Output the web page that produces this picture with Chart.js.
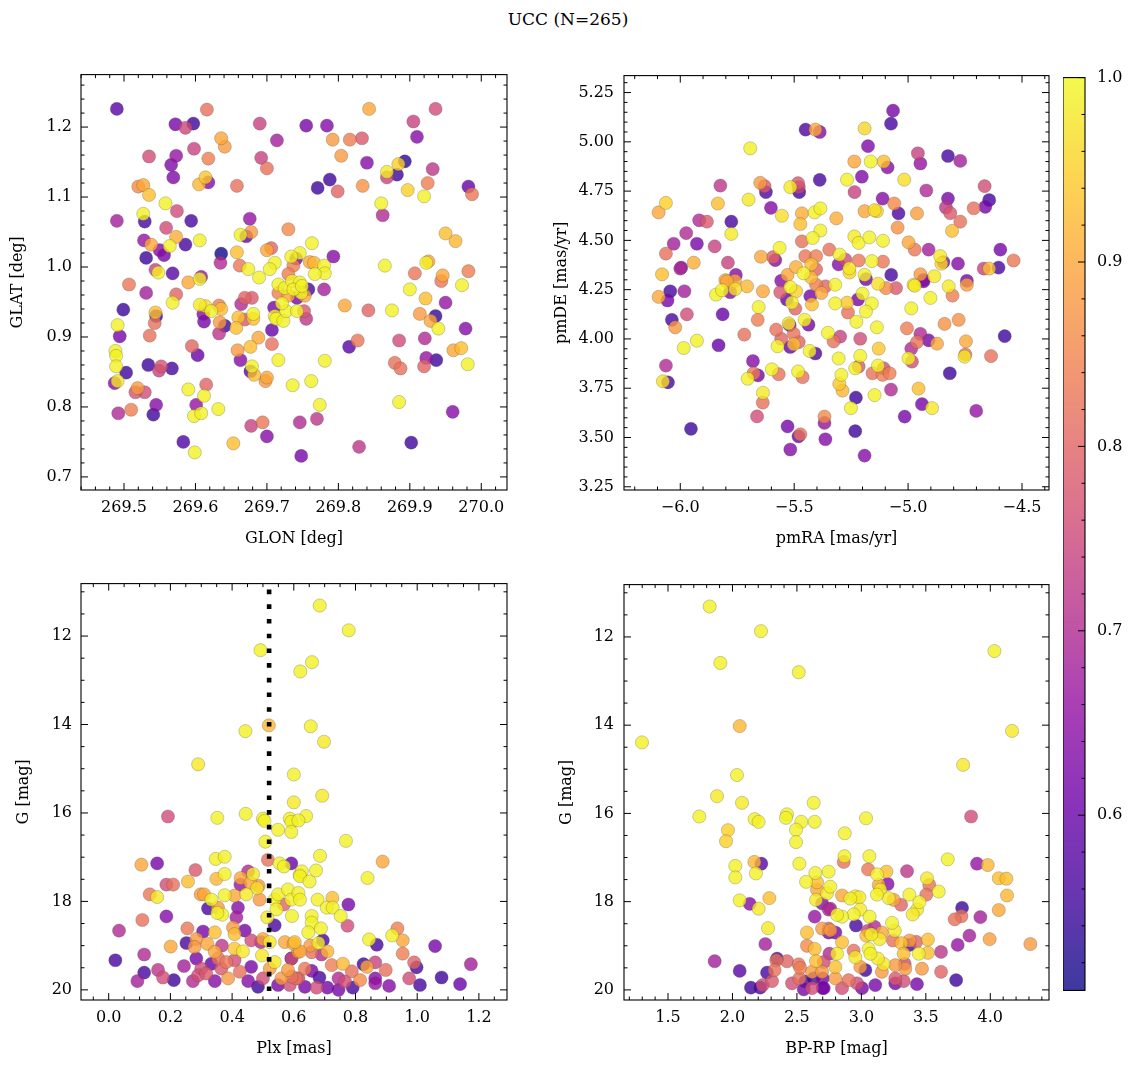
<!DOCTYPE html>
<html lang="en">
<head>
<meta charset="UTF-8">
<title>UCC (N=265)</title>
<script src="https://cdn.jsdelivr.net/npm/chart.js"></script>
<style>
    body {
        margin: 0;
        width: 1136px;
        height: 1067px;
        position: relative;
        overflow: hidden;
        background: #fff;
        font-family: 'DejaVu Serif', serif;
    }
    canvas { position: absolute; }
    #title {
        position: absolute;
        top: 9px;
        left: 0;
        width: 1136px;
        text-align: center;
        font-size: 17px;
        color: #000;
    }
</style>
</head>
<body>
<div id="title">UCC (N=265)</div>
<canvas id="cPos"></canvas>
<canvas id="cPm"></canvas>
<canvas id="cPlx"></canvas>
<canvas id="cCmd"></canvas>
<canvas id="cBar"></canvas>
<script>
// ---- data ----
// top-left: GLON / GLAT
const glon = [269.490,269.616,269.572,269.586,269.597,269.690,269.714,269.755,269.784,269.843,
269.936,269.905,269.910,269.636,269.641,269.792,269.816,269.833,269.535,269.573,
269.566,269.598,269.618,269.692,269.700,269.804,269.840,269.893,269.884,269.868,
269.868,269.882,269.932,269.569,269.520,269.527,269.535,269.605,269.614,269.618,
269.658,269.771,269.788,269.799,269.834,269.897,269.920,269.925,269.982,269.987,
269.860,269.862,269.490,269.527,269.529,269.558,269.574,269.594,269.676,269.663,
269.671,269.678,269.730,269.559,269.573,269.528,269.538,269.564,269.586,269.606,
269.550,269.556,269.531,269.636,269.635,269.658,269.700,269.706,269.763,269.746,
269.734,269.741,269.793,269.711,269.760,269.766,269.780,269.781,269.767,269.737,
269.730,269.662,269.674,269.704,269.689,269.544,269.548,269.568,269.608,269.606,
269.590,269.507,269.865,269.923,269.926,269.907,269.946,269.982,269.950,269.964,
269.973,
269.531,269.573,269.568,269.780,269.809,269.842,269.875,269.900,269.922,269.944,
269.950,269.936,269.914,269.929,269.940,269.978,269.499,269.491,269.494,269.544,
269.545,269.543,269.536,269.606,269.614,269.622,269.633,269.636,269.611,269.612,
269.634,269.641,269.633,269.660,269.657,269.664,269.669,269.679,269.681,269.681,
269.669,269.710,269.711,269.713,269.723,269.727,269.742,269.752,269.755,269.707,
269.688,269.677,269.659,269.707,269.716,269.781,269.663,269.679,269.677,269.682,
269.700,269.698,269.595,269.603,269.534,269.552,269.549,269.567,269.503,269.488,
269.489,269.489,269.487,269.491,269.519,269.516,269.529,269.492,269.510,269.545,
269.541,269.590,269.615,269.612,269.601,269.598,269.608,269.632,269.583,269.599,
269.653,269.678,269.694,269.700,269.736,269.762,269.774,269.746,269.770,269.748,
269.815,269.827,269.885,269.879,269.887,269.921,269.923,269.937,269.920,269.961,
269.972,269.981,269.885,269.829,269.902,269.960,
269.716,269.725,269.735,269.746,269.748,269.758,269.716,269.730,269.742,269.753,
269.721,269.737,269.749];
const glat = [1.226,1.225,1.204,1.199,1.205,1.205,1.181,1.202,1.202,1.226,
1.226,1.208,1.186,1.184,1.172,1.182,1.182,1.184,1.158,1.159,
1.146,1.169,1.155,1.156,1.141,1.159,1.149,1.151,1.147,1.136,
1.128,1.132,1.140,1.128,1.115,1.117,1.103,1.118,1.128,1.121,
1.116,1.113,1.125,1.108,1.116,1.110,1.101,1.120,1.115,1.104,
1.091,1.074,1.066,1.076,1.065,1.091,1.080,1.066,1.069,1.046,
1.044,1.050,1.054,1.056,1.043,1.038,1.032,1.030,1.032,1.038,
1.024,1.017,1.013,1.019,1.006,1.021,1.024,1.027,1.034,1.020,
1.015,1.012,1.015,1.006,1.007,1.006,1.002,0.991,0.990,1.002,
0.990,1.002,0.997,0.997,0.985,0.996,0.992,0.991,0.986,0.983,
0.978,0.975,1.002,1.006,1.008,0.991,0.988,0.994,1.048,1.037,
0.974,
0.963,0.961,0.949,0.968,0.945,0.938,0.938,0.968,0.955,0.980,
0.949,0.930,0.933,0.923,0.912,0.912,0.939,0.917,0.901,0.935,
0.930,0.920,0.902,0.946,0.944,0.937,0.945,0.940,0.933,0.922,
0.921,0.916,0.905,0.928,0.913,0.947,0.956,0.956,0.933,0.926,
0.925,0.942,0.930,0.926,0.923,0.937,0.937,0.937,0.926,0.910,
0.899,0.886,0.881,0.890,0.867,0.866,0.867,0.858,0.851,0.846,
0.842,0.837,0.887,0.874,0.860,0.858,0.852,0.855,0.849,0.880,
0.873,0.858,0.834,0.837,0.827,0.821,0.821,0.791,0.796,0.803,
0.789,0.825,0.832,0.816,0.803,0.787,0.791,0.797,0.750,0.735,
0.748,0.773,0.778,0.758,0.831,0.837,0.803,0.778,0.783,0.730,
0.886,0.895,0.895,0.863,0.855,0.898,0.870,0.867,0.858,0.881,
0.884,0.861,0.807,0.743,0.749,0.793,
0.975,0.970,0.980,0.978,0.963,0.968,0.963,0.959,0.956,0.959,
0.948,0.968,0.973];
const probPos = [.58,.82,.62,.75,.55,.74,.68,.62,.64,.90,
.76,.74,.64,.90,.88,.88,.84,.78,.76,.66,
.63,.74,.84,.74,.82,.88,.64,.53,.95,.98,
.74,.55,.72,.63,.86,.90,.93,.92,.94,.64,
.82,.55,.55,.80,.87,.95,.99,.84,.60,.83,
.99,.70,.68,.99,.56,.99,.76,.56,.66,.99,
.60,.88,.86,.76,.91,.66,.90,.99,.56,.99,
.64,.62,.55,.51,.70,.93,.90,.80,.99,.99,
.99,.62,.64,.99,.90,.92,.99,.99,.99,.84,
.84,.83,.99,.99,.99,.74,.99,.58,.66,.99,
.90,.83,.99,.99,.90,.83,.90,.84,.93,.92,
.99,
.68,.80,.99,.68,.90,.80,.99,.99,.93,.83,
.66,.54,.88,.90,.99,.64,.55,.99,.62,.93,
.55,.82,.82,.98,.97,.99,.84,.93,.64,.62,
.88,.55,.72,.93,.93,.70,.80,.78,.99,.93,
.78,.62,.99,.99,.99,.99,.99,.78,.72,.60,
.90,.93,.88,.82,.99,.99,.64,.99,.58,.93,
.90,.88,.80,.60,.55,.77,.74,.56,.55,.99,
.99,.99,.64,.98,.88,.77,.76,.70,.84,.64,
.55,.99,.80,.99,.66,.99,.99,.99,.57,.99,
.93,.74,.83,.64,.99,.99,.99,.70,.72,.62,
.58,.83,.76,.82,.82,.70,.66,.55,.80,.90,
.93,.99,.99,.72,.55,.64,
.99,.99,.99,.99,.99,.56,.84,.90,.62,.90,
.99,.99,.99];

// top-right: pmRA / pmDE
const pmra = [-5.066,-5.075,-5.450,-5.407,-5.388,-5.191,-5.693,-5.176,-5.236,-5.164,
-5.107,-5.090,-4.957,-4.946,-4.825,-4.771,-5.388,-5.268,-5.203,-5.017,
-5.824,-5.649,-5.630,-5.624,-5.483,-5.480,-5.517,-5.478,-5.235,-5.112,
-5.061,-5.042,-4.920,-4.825,-4.834,-4.815,-4.712,-4.664,-4.644,-4.661,
-4.771,-4.807,-6.063,-6.095,-6.063,-6.080,-6.029,-5.974,-5.927,-5.917,
-5.883,-5.849,-5.835,-5.776,-5.776,-5.700,-5.602,-5.554,-5.466,-5.473,
-5.410,-5.385,-5.385,-5.419,-5.466,-5.315,-5.191,-5.147,-5.137,-5.236,
-5.217,-5.170,-5.110,-5.046,-4.998,-4.971,-4.961,-4.910,-4.859,-4.854,
-4.845,-4.781,-4.742,-4.668,-4.644,-4.603,-4.595,-4.537,-5.646,-5.593,
-5.583,-5.564,-5.346,-5.301,-5.276,-5.305,-5.258,-5.257,-5.217,-5.159,
-5.110,-5.451,-5.404,-5.425,-5.404,-5.492,-5.529,-5.459,-5.426,-5.791,
-5.941,-5.996,-6.000,-5.756,-5.802,-5.760,-5.557,-5.074,-5.191,-5.185,
-4.946,-4.932,-4.971,-4.885,
-6.095,-6.044,-6.056,-5.982,-6.037,-6.022,-5.971,-5.985,-5.927,-6.063,
-6.076,-6.054,-5.953,-5.843,-5.817,-5.781,-5.759,-5.795,-5.707,-5.637,
-5.814,-5.832,-5.656,-5.660,-5.719,-5.681,-5.678,-5.659,-5.704,-5.637,
-5.638,-5.663,-5.561,-5.517,-5.492,-5.532,-5.510,-5.495,-5.429,-5.422,
-5.404,-5.381,-5.363,-5.320,-5.320,-5.268,-5.264,-5.220,-5.200,-5.159,
-5.185,-5.132,-5.097,-5.053,-4.976,-4.932,-4.902,-4.822,-4.805,-4.742,
-4.986,-5.524,-5.520,-5.579,-5.557,-5.502,-5.480,-5.502,-5.573,-5.517,
-5.454,-5.437,-5.432,-5.407,-5.352,-5.327,-5.298,-5.227,-5.210,-5.305,
-5.293,-5.302,-5.288,-5.210,-5.217,-5.232,-5.137,-5.129,-5.132,-5.107,
-5.156,-5.112,-5.081,-5.147,-5.075,-5.229,-5.251,-5.367,-5.367,-5.363,
-5.529,-5.481,-5.473,-5.517,-5.232,-5.191,-5.015,-4.939,-4.895,-4.954,
-5.005,-4.986,-4.983,-4.998,-4.946,-4.961,-4.910,-4.873,-4.840,-4.778,
-4.746,-4.749,-4.752,-4.817,-4.701,-4.636,-4.576,-5.598,-5.568,-5.463,
-5.483];
const pmde = [5.158,5.092,5.062,5.062,5.050,5.068,4.967,4.978,4.900,4.900,
4.900,4.870,4.942,4.890,4.928,4.903,4.807,4.808,4.823,4.808,
4.778,4.792,4.775,4.745,4.790,4.770,4.770,4.745,4.745,4.712,
4.687,4.637,4.753,4.712,4.667,4.638,4.663,4.775,4.705,4.670,
4.595,4.548,4.690,4.642,4.433,4.328,4.483,4.537,4.483,4.602,
4.595,4.470,4.687,4.595,4.533,4.707,4.665,4.625,4.637,4.583,
4.642,4.662,4.550,4.512,4.495,4.612,4.648,4.653,4.648,4.520,
4.487,4.515,4.498,4.565,4.490,4.453,4.637,4.453,4.420,4.382,
4.390,4.382,4.295,4.357,4.357,4.362,4.453,4.398,4.417,4.415,
4.400,4.462,4.453,4.428,4.403,4.378,4.358,4.337,4.398,4.395,
4.392,4.420,4.420,4.378,4.353,4.365,4.325,4.333,4.312,4.387,
4.387,4.362,4.357,4.325,4.298,4.295,4.295,4.325,4.325,4.303,
4.328,4.300,4.270,4.318,
4.213,4.242,4.195,4.242,4.097,4.059,4.125,3.954,3.991,3.865,
3.785,3.780,3.544,4.225,4.247,4.237,4.253,4.292,4.267,4.242,
4.125,3.968,4.162,4.097,4.022,3.888,3.826,3.815,3.798,3.727,
3.677,3.607,4.237,4.263,4.242,4.200,4.184,4.154,4.217,4.175,
4.275,4.233,4.267,4.275,4.180,4.184,4.134,4.200,4.230,4.180,
4.139,4.280,4.258,4.258,4.275,4.292,4.208,4.267,4.220,4.275,
4.155,4.079,4.070,4.047,4.001,4.026,3.984,3.973,3.963,3.959,
4.097,4.072,3.939,3.926,4.031,3.988,4.012,4.087,4.001,3.901,
3.818,3.772,3.738,3.914,3.860,3.851,4.059,3.951,3.865,3.851,
3.826,3.818,3.826,3.715,3.743,3.702,3.649,3.606,3.574,3.491,
3.556,3.506,3.516,3.439,3.532,3.408,3.606,3.669,3.649,3.748,
4.054,3.951,3.885,3.901,4.026,3.984,3.993,3.976,4.076,4.097,
3.988,3.921,3.910,3.826,3.635,3.913,4.014,3.846,3.821,3.806,
3.835];
const probPm = [.62,.56,.57,.90,.64,.96,.99,.63,.90,.99,
.93,.64,.74,.66,.56,.68,.56,.99,.63,.97,
.72,.88,.78,.57,.78,.74,.98,.55,.74,.64,
.86,.57,.70,.62,.72,.78,.82,.76,.56,.62,
.82,.93,.95,.90,.82,.93,.68,.70,.62,.70,
.78,.74,.93,.56,.98,.98,.64,.97,.91,.93,
.99,.99,.99,.99,.82,.91,.90,.97,.96,.98,
.99,.99,.99,.87,.90,.83,.89,.68,.98,.96,
.64,.64,.62,.74,.93,.56,.62,.83,.90,.80,
.64,.99,.82,.99,.76,.64,.98,.96,.83,.99,
.83,.83,.84,.93,.80,.91,.90,.99,.92,.74,
.91,.62,.70,.64,.90,.90,.64,.56,.99,.62,
.88,.64,.98,.98,
.90,.56,.62,.68,.56,.88,.76,.99,.99,.70,
.97,.56,.55,.99,.99,.64,.97,.90,.92,.90,
.60,.60,.99,.84,.82,.64,.83,.62,.99,.98,
.82,.76,.78,.99,.95,.60,.99,.80,.62,.93,
.84,.90,.80,.99,.99,.94,.82,.62,.99,.99,
.99,.97,.86,.78,.97,.62,.99,.98,.84,.89,
.99,.98,.64,.82,.80,.82,.80,.93,.99,.60,
.99,.62,.99,.57,.99,.82,.74,.99,.76,.99,
.99,.94,.92,.99,.78,.99,.99,.94,.99,.76,
.82,.84,.84,.99,.70,.55,.99,.86,.66,.64,
.62,.60,.82,.64,.55,.64,.62,.62,.98,.93,
.84,.70,.76,.99,.70,.82,.62,.90,.87,.87,
.90,.82,.98,.55,.66,.82,.55,.99,.82,.82,
.99];

// bottom-left: Plx / G
const plx = [0.684,0.778,0.492,0.659,0.621,0.519,0.443,0.655,0.698,0.290,0.600,0.692,0.600,
0.192,0.352,0.444,0.500,0.505,0.549,0.508,0.587,0.592,0.592,
0.106,0.157,0.281,0.347,0.376,0.516,0.554,0.592,0.568,0.619,
0.187,0.209,0.257,0.349,0.376,0.428,0.427,0.452,0.468,0.459,
0.481,0.486,0.133,0.157,0.298,0.309,0.333,0.376,0.408,0.446,
0.489,0.538,0.549,0.581,0.592,0.568,0.544,0.514,0.538,0.322,
0.354,0.368,0.352,0.419,0.414,0.187,0.109,0.0335,0.255,0.306,
0.344,0.403,0.408,0.441,0.201,0.252,0.284,0.278,0.320,0.344,
0.367,0.408,0.435,0.462,0.493,0.500,0.497,0.538,0.522,0.571,
0.603,0.614,0.0216,0.115,0.115,0.093,0.160,0.176,0.211,0.244,
0.273,0.284,0.300,0.316,0.333,0.344,0.365,0.381,0.387,0.408,
0.425,0.452,0.462,0.484,0.500,0.522,0.549,0.560,0.587,0.592,
0.581,0.608,0.290,0.355,
0.640,0.615,0.769,0.685,0.888,0.839,0.626,0.620,0.651,0.672,
0.615,0.620,0.677,0.707,0.725,0.726,0.752,0.777,0.774,0.594,
0.658,0.658,0.647,0.688,0.694,0.680,0.599,0.620,0.653,0.658,
0.690,0.709,0.844,0.869,0.919,0.936,0.953,0.953,1.058,1.174,
1.079,1.139,1.009,0.974,0.990,0.998,0.909,0.898,0.864,0.864,
0.864,0.837,0.826,0.815,0.791,0.788,0.759,0.766,0.745,0.745,
0.723,0.709,0.683,0.658,0.636,0.674,0.636,0.615,0.593,0.593];
const gPlx = [11.31,11.87,12.32,12.59,12.80,14.02,14.15,14.04,14.39,14.90,15.13,15.61,15.76,
16.08,16.11,16.02,16.13,16.18,16.38,16.65,16.13,16.20,16.43,
17.17,17.14,17.29,17.04,16.99,17.06,17.14,17.14,17.21,17.40,
17.62,17.62,17.55,17.49,17.38,17.47,17.62,17.32,17.38,17.58,
17.70,17.65,17.84,17.90,17.84,17.84,17.96,17.86,17.87,17.84,
17.96,17.96,17.84,17.73,17.96,18.07,18.18,18.36,18.54,18.16,
18.14,18.30,18.26,18.14,18.36,18.34,18.42,18.66,18.61,18.68,
18.70,18.59,18.74,18.66,19.02,18.94,18.85,19.03,18.96,19.14,
19.00,19.07,19.13,18.88,18.92,18.85,19.22,19.37,18.92,18.92,
18.92,19.14,19.33,19.20,19.61,19.80,19.55,19.72,19.78,19.46,
19.80,19.29,19.52,19.63,19.41,19.80,19.52,19.37,19.74,19.33,
19.59,19.80,19.48,19.93,19.74,19.52,19.89,19.74,19.89,19.29,
19.55,19.74,19.67,19.29,
16.07,16.17,16.63,16.97,17.10,17.47,17.32,17.43,17.55,17.30,
17.81,17.96,17.96,18.14,17.92,18.14,18.33,18.07,18.55,18.33,
18.33,18.48,18.70,18.61,18.88,18.94,18.96,19.13,19.00,19.15,
19.20,19.13,18.86,18.98,18.77,18.61,18.88,19.18,19.01,19.42,
19.72,19.87,19.89,19.74,19.38,19.49,19.91,19.55,19.38,19.74,
19.85,19.48,19.42,19.78,19.95,19.58,19.41,19.81,20.00,19.74,
19.44,19.95,19.72,19.57,19.52,19.95,19.93,19.74,19.70,19.29];
const probPlx = [.99,.99,.99,.99,.99,.92,.99,.99,.98,.98,.99,.98,.98,
.76,.99,.99,.99,.99,.99,.99,.99,.99,.99,
.90,.62,.78,.99,.99,.82,.99,.60,.99,.99,
.76,.82,.93,.92,.99,.90,.66,.70,.98,.90,
.97,.88,.83,.98,.88,.90,.99,.99,.90,.98,
.88,.99,.99,.99,.99,.80,.99,.98,.56,.56,
.88,.99,.99,.64,.68,.64,.82,.70,.83,.62,
.93,.88,.93,.62,.90,.56,.88,.88,.90,.90,
.72,.94,.98,.76,.70,.90,.98,.98,.98,.90,
.93,.88,.56,.70,.56,.68,.72,.76,.55,.68,
.70,.62,.76,.78,.60,.64,.78,.83,.88,.76,
.82,.64,.62,.55,.76,.88,.62,.88,.76,.55,
.88,.82,.76,.82,
.99,.99,.99,.99,.90,.99,.99,.99,.99,.99,
.99,.99,.99,.99,.93,.99,.99,.62,.76,.99,
.99,.99,.99,.99,.56,.98,.90,.90,.88,.82,
.70,.92,.99,.56,.99,.84,.90,.84,.62,.68,
.55,.60,.56,.76,.80,.56,.64,.82,.74,.64,
.66,.90,.55,.86,.56,.82,.92,.76,.62,.70,
.84,.62,.56,.62,.83,.76,.62,.76,.82,.76];
const plxCut = 0.52;

// bottom-right: BP-RP / G
const bprp = [1.823,2.221,1.906,2.514,4.032,2.056,1.298,4.169,3.789,2.035,1.880,2.074,2.630,
1.743,1.965,1.950,2.172,2.203,2.423,2.415,2.534,2.638,2.493,
2.493,2.519,2.022,2.022,2.170,2.224,2.182,2.056,2.134,2.203,
2.286,2.276,2.255,1.862,2.056,2.346,2.340,2.423,2.268,2.327,
2.307,2.234,2.143,2.215,2.462,2.519,2.514,2.525,2.565,2.553,
2.617,2.700,2.630,2.700,2.578,2.638,2.578,2.638,2.695,2.746,
2.648,2.656,2.656,2.643,2.571,2.733,2.746,2.695,2.746,2.648,
2.617,2.695,2.752,2.708,
3.036,2.871,2.869,2.863,3.062,3.851,3.670,3.897,3.980,4.066,
4.125,4.130,4.066,3.923,3.781,3.776,3.724,3.838,3.747,3.995,
4.311,3.735,3.618,3.618,3.052,3.121,3.194,3.204,3.135,3.147,
3.121,3.212,3.251,3.354,3.308,3.372,3.450,3.432,3.398,3.509,
3.527,3.600,3.504,2.759,2.850,2.914,2.953,2.984,2.992,2.940,
2.850,2.811,3.064,2.958,2.759,3.102,3.050,3.238,3.259,3.077,
3.038,3.141,3.159,3.245,3.310,3.374,3.374,3.426,3.516,3.445,
3.516,3.470,3.431,3.336,3.328,3.341,3.263,3.263,3.328,3.263,
3.172,3.159,3.108,3.057,3.070,2.992,2.953,2.940,2.850,2.811,
2.798,2.798,2.901,2.966,2.850,3.005,2.708,3.031,3.128,2.746,
2.798,2.760];
const gCmd = [11.31,11.87,12.59,12.80,12.32,14.02,14.39,14.13,14.90,15.13,15.61,15.76,15.76,
16.07,16.38,16.63,16.13,16.19,16.02,16.10,16.19,16.19,16.37,
16.65,17.14,17.19,17.45,17.10,17.14,17.36,17.97,18.05,18.16,
17.92,18.60,18.96,19.35,19.57,19.29,19.33,19.35,19.61,19.55,
19.80,19.89,19.95,19.95,19.85,19.74,19.42,19.50,19.81,19.99,
19.96,19.96,19.74,19.74,19.00,19.07,18.70,18.34,18.04,18.18,
17.96,17.73,17.56,17.35,17.55,17.81,17.32,18.61,18.70,19.35,
19.59,19.59,19.18,19.37,
16.11,16.45,16.97,17.10,16.97,16.07,17.04,17.14,17.17,17.47,
17.48,17.86,18.19,18.35,18.14,18.33,18.40,18.77,18.98,18.85,
18.96,19.78,19.14,19.59,17.27,17.38,17.32,17.60,17.62,17.73,
17.84,17.92,17.96,17.31,18.07,17.84,18.01,18.18,18.29,17.47,
17.62,17.77,17.84,17.66,17.86,17.93,17.88,17.90,18.18,18.29,
18.34,18.30,18.34,18.54,18.16,18.57,18.66,18.48,18.66,18.74,
18.77,18.85,18.70,18.88,18.94,18.88,18.98,18.91,18.86,19.18,
19.16,19.52,19.87,19.41,19.18,19.52,19.44,19.74,19.80,19.85,
19.41,19.59,19.89,19.07,19.18,19.48,19.26,19.11,18.92,19.18,
19.48,19.74,19.78,19.85,19.96,19.96,19.96,19.55,19.29,18.61,
18.70,18.65];
const probCmd = [.99,.99,.99,.99,.99,.92,.99,.98,.98,.99,.98,.98,.99,
.99,.95,.95,.99,.99,.99,.99,.99,.99,.99,
.99,.99,.99,.99,.92,.58,.99,.99,.64,.98,
.93,.98,.68,.68,.58,.56,.82,.80,.56,.82,
.78,.76,.55,.56,.76,.82,.82,.84,.56,.62,
.76,.62,.56,.62,.86,.93,.93,.66,.64,.70,
.98,.90,.93,.99,.99,.98,.99,.88,.62,.93,
.88,.88,.70,.76,
.99,.99,.99,.82,.99,.76,.99,.66,.92,.93,
.93,.92,.90,.68,.55,.82,.82,.68,.66,.89,
.88,.55,.72,.80,.83,.99,.93,.64,.90,.98,
.99,.98,.89,.72,.80,.99,.99,.98,.98,.98,
.82,.99,.82,.99,.90,.99,.98,.98,.98,.99,
.99,.99,.99,.56,.68,.70,.74,.99,.98,.99,
.93,.98,.90,.82,.93,.88,.56,.80,.93,.99,
.93,.88,.62,.76,.93,.88,.88,.78,.76,.62,
.98,.88,.62,.99,.99,.88,.98,.82,.93,.98,
.93,.88,.82,.76,.76,.62,.62,.55,.98,.78,
.62,.88];

// tick labels
const glonTicks = [269.5, 269.6, 269.7, 269.8, 269.9, 270.0];
const glatTicks = [0.7, 0.8, 0.9, 1.0, 1.1, 1.2];
const pmraTicks = [-6.0, -5.5, -5.0, -4.5];
const pmdeTicks = [3.25, 3.50, 3.75, 4.00, 4.25, 4.50, 4.75, 5.00, 5.25];
const plxTicks = [0.0, 0.2, 0.4, 0.6, 0.8, 1.0, 1.2];
const gTicks = [12, 14, 16, 18, 20];
const bprpTicks = [1.5, 2.0, 2.5, 3.0, 3.5, 4.0];
const probTicks = [0.6, 0.7, 0.8, 0.9, 1.0];
const probMin = 0.505, probMax = 1.0;

// ---- plasma colormap ----
const PLASMA = ['#0d0887', '#41049d', '#6a00a8', '#8f0da4', '#b12a90', '#cc4778',
    '#e16462', '#f2844b', '#fca636', '#fcce25', '#f0f921'];
const hexRgb = h => [1, 3, 5].map(i => parseInt(h.substr(i, 2), 16));
function plasma(p, alpha) {
    let t = (p - probMin) / (probMax - probMin);
    t = Math.max(0, Math.min(1, t)) * 10;
    const i = Math.min(9, Math.floor(t)), f = t - i;
    const a = hexRgb(PLASMA[i]), b = hexRgb(PLASMA[i + 1]);
    const c = a.map((v, k) => Math.round(v + (b[k] - v) * f));
    return `rgba(${c[0]},${c[1]},${c[2]},${alpha})`;
}

Chart.defaults.font.family = "'DejaVu Serif', serif";
Chart.defaults.font.size = 16;
Chart.defaults.color = '#000';

// inward major/minor ticks on all sides plus the frame
const frameTicks = {
    id: 'frameTicks',
    afterDraw(chart, args, opts) {
        const {ctx, chartArea: a, scales} = chart;
        const sides = opts.sides || ['bottom', 'top', 'left', 'right'];
        ctx.save();
        ctx.strokeStyle = '#000';
        ctx.lineWidth = 1;
        const mark = (scale, v, len) => {
            const p = scale.getPixelForValue(v);
            ctx.beginPath();
            if (scale.isHorizontal()) {
                if (sides.includes('bottom')) { ctx.moveTo(p, a.bottom); ctx.lineTo(p, a.bottom - len); }
                if (sides.includes('top')) { ctx.moveTo(p, a.top); ctx.lineTo(p, a.top + len); }
            } else {
                if (sides.includes('left')) { ctx.moveTo(a.left, p); ctx.lineTo(a.left + len, p); }
                if (sides.includes('right')) { ctx.moveTo(a.right, p); ctx.lineTo(a.right - len, p); }
            }
            ctx.stroke();
        };
        [['x', opts.minorX], ['y', opts.minorY]].forEach(([id, step]) => {
            const s = scales[id];
            if (!s || !s.options.display) return;
            const majors = s.ticks.map(t => t.value);
            majors.forEach(v => mark(s, v, 7));
            if (step) {
                const lo = Math.min(s.min, s.max), hi = Math.max(s.min, s.max);
                for (let k = Math.ceil(lo / step - 1e-6); k * step <= hi + 1e-9; k++) {
                    const v = k * step;
                    if (majors.some(m => Math.abs(m - v) < step / 10)) continue;
                    mark(s, v, 3.5);
                }
            }
        });
        ctx.lineWidth = 1.1;
        ctx.strokeRect(a.left, a.top, a.right - a.left, a.bottom - a.top);
        ctx.restore();
    }
};

// dotted vertical line (parallax cut)
const cutLine = {
    id: 'cutLine',
    afterDatasetsDraw(chart, args, opts) {
        if (opts.value === undefined) return;
        const {ctx, chartArea: a, scales: {x}} = chart;
        const px = x.getPixelForValue(opts.value);
        ctx.save();
        ctx.strokeStyle = '#000';
        ctx.lineWidth = 4.6;
        ctx.setLineDash([4.6, 10.1]);
        ctx.lineDashOffset = -6;
        ctx.beginPath();
        ctx.moveTo(px, a.top);
        ctx.lineTo(px, a.bottom);
        ctx.stroke();
        ctx.restore();
    }
};

const yw = 80, xh = 64, pad = 12;

function scatterPanel(id, box, xs, ys, ps, ax) {
    const c = document.getElementById(id);
    c.width = yw + box.w + pad;
    c.height = pad + box.h + xh;
    c.style.left = (box.x - yw) + 'px';
    c.style.top = (box.y - pad) + 'px';
    const order = xs.map((_, i) => i).sort((a, b) => ps[a] - ps[b]);
    new Chart(c, {
        type: 'scatter',
        data: {
            datasets: [{
                data: order.map(i => ({x: xs[i], y: ys[i]})),
                backgroundColor: order.map(i => plasma(ps[i], 0.8)),
                borderColor: 'rgba(70,70,70,0.45)',
                borderWidth: 0.6,
                pointRadius: 6.6,
                pointHoverRadius: 6.6
            }]
        },
        options: {
            responsive: false,
            animation: false,
            events: [],
            layout: {padding: {top: pad, right: pad, left: 0, bottom: 0}},
            plugins: {
                legend: {display: false},
                tooltip: {enabled: false},
                frameTicks: {minorX: ax.minorX, minorY: ax.minorY},
                cutLine: {value: ax.cut}
            },
            scales: {
                x: {
                    type: 'linear', min: ax.xmin, max: ax.xmax,
                    afterBuildTicks: s => { s.ticks = ax.xticks.map(v => ({value: v})); },
                    afterFit: s => { s.height = xh; },
                    grid: {display: false, drawTicks: false},
                    border: {display: false},
                    ticks: {padding: 8, autoSkip: false, maxRotation: 0, callback: ax.xfmt},
                    title: {display: true, text: ax.xlabel, padding: {top: 0, bottom: 6}}
                },
                y: {
                    type: 'linear', min: ax.ymin, max: ax.ymax, reverse: !!ax.yrev,
                    afterBuildTicks: s => { s.ticks = ax.yticks.map(v => ({value: v})); },
                    afterFit: s => { s.width = yw; },
                    grid: {display: false, drawTicks: false},
                    border: {display: false},
                    ticks: {padding: ax.ypad, autoSkip: false, callback: ax.yfmt},
                    title: {display: true, text: ax.ylabel, padding: {top: ax.ytitle - (box.x - yw) - 9.6, bottom: 0}}
                }
            }
        },
        plugins: [frameTicks, cutLine]
    });
}

const minus = s => s.replace('-', '\u2212');
const f1 = v => minus(v.toFixed(1));
const f2 = v => minus(v.toFixed(2));
const f0 = v => v.toFixed(0);

scatterPanel('cPos', {x: 81, y: 68, w: 426, h: 422}, glon, glat, probPos, {
    xmin: 269.4398, xmax: 270.036, ymin: 0.6813, ymax: 1.275,
    xticks: glonTicks, yticks: glatTicks, minorX: 0.02, minorY: 0.02,
    xfmt: f1, yfmt: f1, xlabel: 'GLON [deg]', ylabel: 'GLAT [deg]', ytitle: 18, ypad: 9
});
scatterPanel('cPm', {x: 624, y: 68, w: 425, h: 422}, pmra, pmde, probPm, {
    xmin: -6.247, xmax: -4.3815, ymin: 3.2336, ymax: 5.336,
    xticks: pmraTicks, yticks: pmdeTicks, minorX: 0.1, minorY: 0.05,
    xfmt: f1, yfmt: f2, xlabel: 'pmRA [mas/yr]', ylabel: 'pmDE [mas/yr]', ytitle: 562, ypad: 10
});
scatterPanel('cPlx', {x: 81, y: 577, w: 426, h: 423}, plx, gPlx, probPlx, {
    xmin: -0.0898, xmax: 1.2911, ymin: 10.814, ymax: 20.229, yrev: true,
    xticks: plxTicks, yticks: gTicks, minorX: 0.05, minorY: 0.5,
    xfmt: f1, yfmt: f0, xlabel: 'Plx [mas]', ylabel: 'G [mag]', ytitle: 24, ypad: 9, cut: plxCut
});
scatterPanel('cCmd', {x: 624, y: 577, w: 425, h: 423}, bprp, gCmd, probCmd, {
    xmin: 1.1586, xmax: 4.4554, ymin: 10.814, ymax: 20.229, yrev: true,
    xticks: bprpTicks, yticks: gTicks, minorX: 0.1, minorY: 0.5,
    xfmt: f1, yfmt: f0, xlabel: 'BP-RP [mag]', ylabel: 'G [mag]', ytitle: 567, ypad: 10
});

// colorbar
const cbarFill = {
    id: 'cbarFill',
    beforeDatasetsDraw(chart) {
        const {ctx, chartArea: a, scales: {y}} = chart;
        for (let py = Math.floor(a.top); py < a.bottom; py++) {
            ctx.fillStyle = plasma(y.getValueForPixel(py + 0.5), 0.8);
            ctx.fillRect(a.left, py, a.right - a.left, 1);
        }
    }
};
(function () {
    const box = {x: 1063, y: 68, w: 22, h: 932}, lw = 60;
    const c = document.getElementById('cBar');
    c.width = box.w + lw;
    c.height = box.h + 2 * pad;
    c.style.left = box.x + 'px';
    c.style.top = (box.y - pad) + 'px';
    new Chart(c, {
        type: 'scatter',
        data: {datasets: [{data: []}]},
        options: {
            responsive: false, animation: false, events: [],
            layout: {padding: {top: pad, bottom: pad, left: 0, right: 0}},
            plugins: {legend: {display: false}, tooltip: {enabled: false},
                frameTicks: {minorY: 0.02, sides: ['right']}},
            scales: {
                x: {display: false, min: 0, max: 1},
                y: {
                    position: 'right', min: probMin, max: probMax,
                    afterBuildTicks: s => { s.ticks = probTicks.map(v => ({value: v})); },
                    afterFit: s => { s.width = lw; },
                    grid: {display: false, drawTicks: false},
                    border: {display: false},
                    ticks: {padding: 12, autoSkip: false, callback: f1}
                }
            }
        },
        plugins: [cbarFill, frameTicks]
    });
})();
</script>
</body>
</html>
